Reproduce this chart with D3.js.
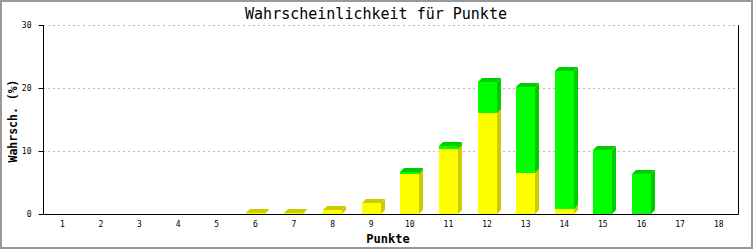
<!DOCTYPE html>
<html>
<head>
<meta charset="utf-8">
<script src="https://cdn.jsdelivr.net/npm/d3@7"></script>
<style>
  body { margin: 0; background: #fff; }
  text { font-family: "DejaVu Sans Mono", monospace; }
</style>
</head>
<body>
<svg class="chart"></svg>
<script>
// chart data
var punkte = ["1","2","3","4","5","6","7","8","9","10","11","12","13","14","15","16","17","18"];
var gelb  = [0, 0, 0, 0, 0, 0.1, 0.1, 0.7, 1.8, 6.3, 10.3, 16.0, 6.5, 0.8, 0, 0, 0, 0];
var gruen = [0, 0, 0, 0, 0, 0, 0, 0, 0, 0.35, 0.5, 5.0, 13.7, 21.9, 10.1, 6.4, 0, 0];
var yTicks = [0, 10, 20, 30];

var width = 753, height = 250;
var plotLeft = 43, plotRight = 738, plotTop = 25, plotBottom = 214;
var depth = 4, barW = 19;

var svg = d3.select(".chart").attr("width", width).attr("height", height);

svg.append("rect").attr("x", 1).attr("y", 1).attr("width", 751).attr("height", 247)
   .attr("fill", "#fff").attr("stroke", "#999").attr("stroke-width", 2);

var x = d3.scaleBand().domain(punkte).range([plotLeft, plotRight]);
var y = d3.scaleLinear().domain([0, 30]).range([plotBottom, plotTop]);

// grid lines
svg.selectAll("line.grid")
   .data(yTicks.slice(1))
   .enter().append("line")
   .attr("x1", plotLeft).attr("x2", plotRight)
   .attr("y1", function(d) { return y(d) + 0.5; })
   .attr("y2", function(d) { return y(d) + 0.5; })
   .attr("stroke", "#bbb").attr("stroke-dasharray", "2,3");

// stacked 3d bars
function drawSegment(xPos, v0, v1, front, dark) {
  var y0 = Math.round(y(v0)), y1 = Math.round(y(v1));
  var g = svg.append("g");
  g.append("rect").attr("x", xPos).attr("y", y1).attr("width", barW).attr("height", y0 - y1).attr("fill", front);
  g.append("polygon").attr("fill", dark)
   .attr("points", [[xPos + barW, y1], [xPos + barW + depth, y1 - depth], [xPos + barW + depth, y0 - depth], [xPos + barW, y0]].join(" "));
  g.append("polygon").attr("fill", dark)
   .attr("points", [[xPos, y1], [xPos + depth, y1 - depth], [xPos + barW + depth, y1 - depth], [xPos + barW, y1]].join(" "));
}

punkte.forEach(function(p, i) {
  var xPos = Math.round(x(p) + x.bandwidth() / 2 - barW / 2);
  if (gelb[i] > 0) drawSegment(xPos, 0, gelb[i], "#ffff00", "#cccc00");
  if (gruen[i] > 0) drawSegment(xPos, gelb[i], gelb[i] + gruen[i], "#00ff00", "#00cc00");
});

// axes
var yAxis = d3.axisLeft(y).tickValues(yTicks).tickSize(5).tickPadding(7);
var yG = svg.append("g").attr("transform", "translate(" + (plotLeft + 0.5) + ",0)").call(yAxis);
yG.select(".domain").remove();
yG.selectAll("text").style("font-size", "8px").style("font-family", "DejaVu Sans Mono");

var xAxis = d3.axisBottom(x).tickSize(0).tickPadding(7);
var xG = svg.append("g").attr("transform", "translate(0," + (plotBottom + 0.5) + ")").call(xAxis);
xG.select(".domain").remove();
xG.selectAll("text").style("font-size", "8px").style("font-family", "DejaVu Sans Mono");

svg.append("path")
   .attr("d", "M" + (plotLeft + 0.5) + "," + plotTop + "V" + (plotBottom + 0.5) + "H" + (plotRight + 0.5) + "V" + plotTop)
   .attr("fill", "none").attr("stroke", "#000");

// titles
svg.append("text").attr("x", 376).attr("y", 19).attr("text-anchor", "middle")
   .style("font-size", "15px").text("Wahrscheinlichkeit für Punkte");

svg.append("text").attr("x", 388).attr("y", 243).attr("text-anchor", "middle")
   .style("font-size", "12px").style("font-weight", "bold").text("Punkte");

svg.append("text").attr("transform", "translate(17,121) rotate(-90)").attr("text-anchor", "middle")
   .style("font-size", "11.5px").style("font-weight", "bold").text("Wahrsch. (%)");
</script>
</body>
</html>
